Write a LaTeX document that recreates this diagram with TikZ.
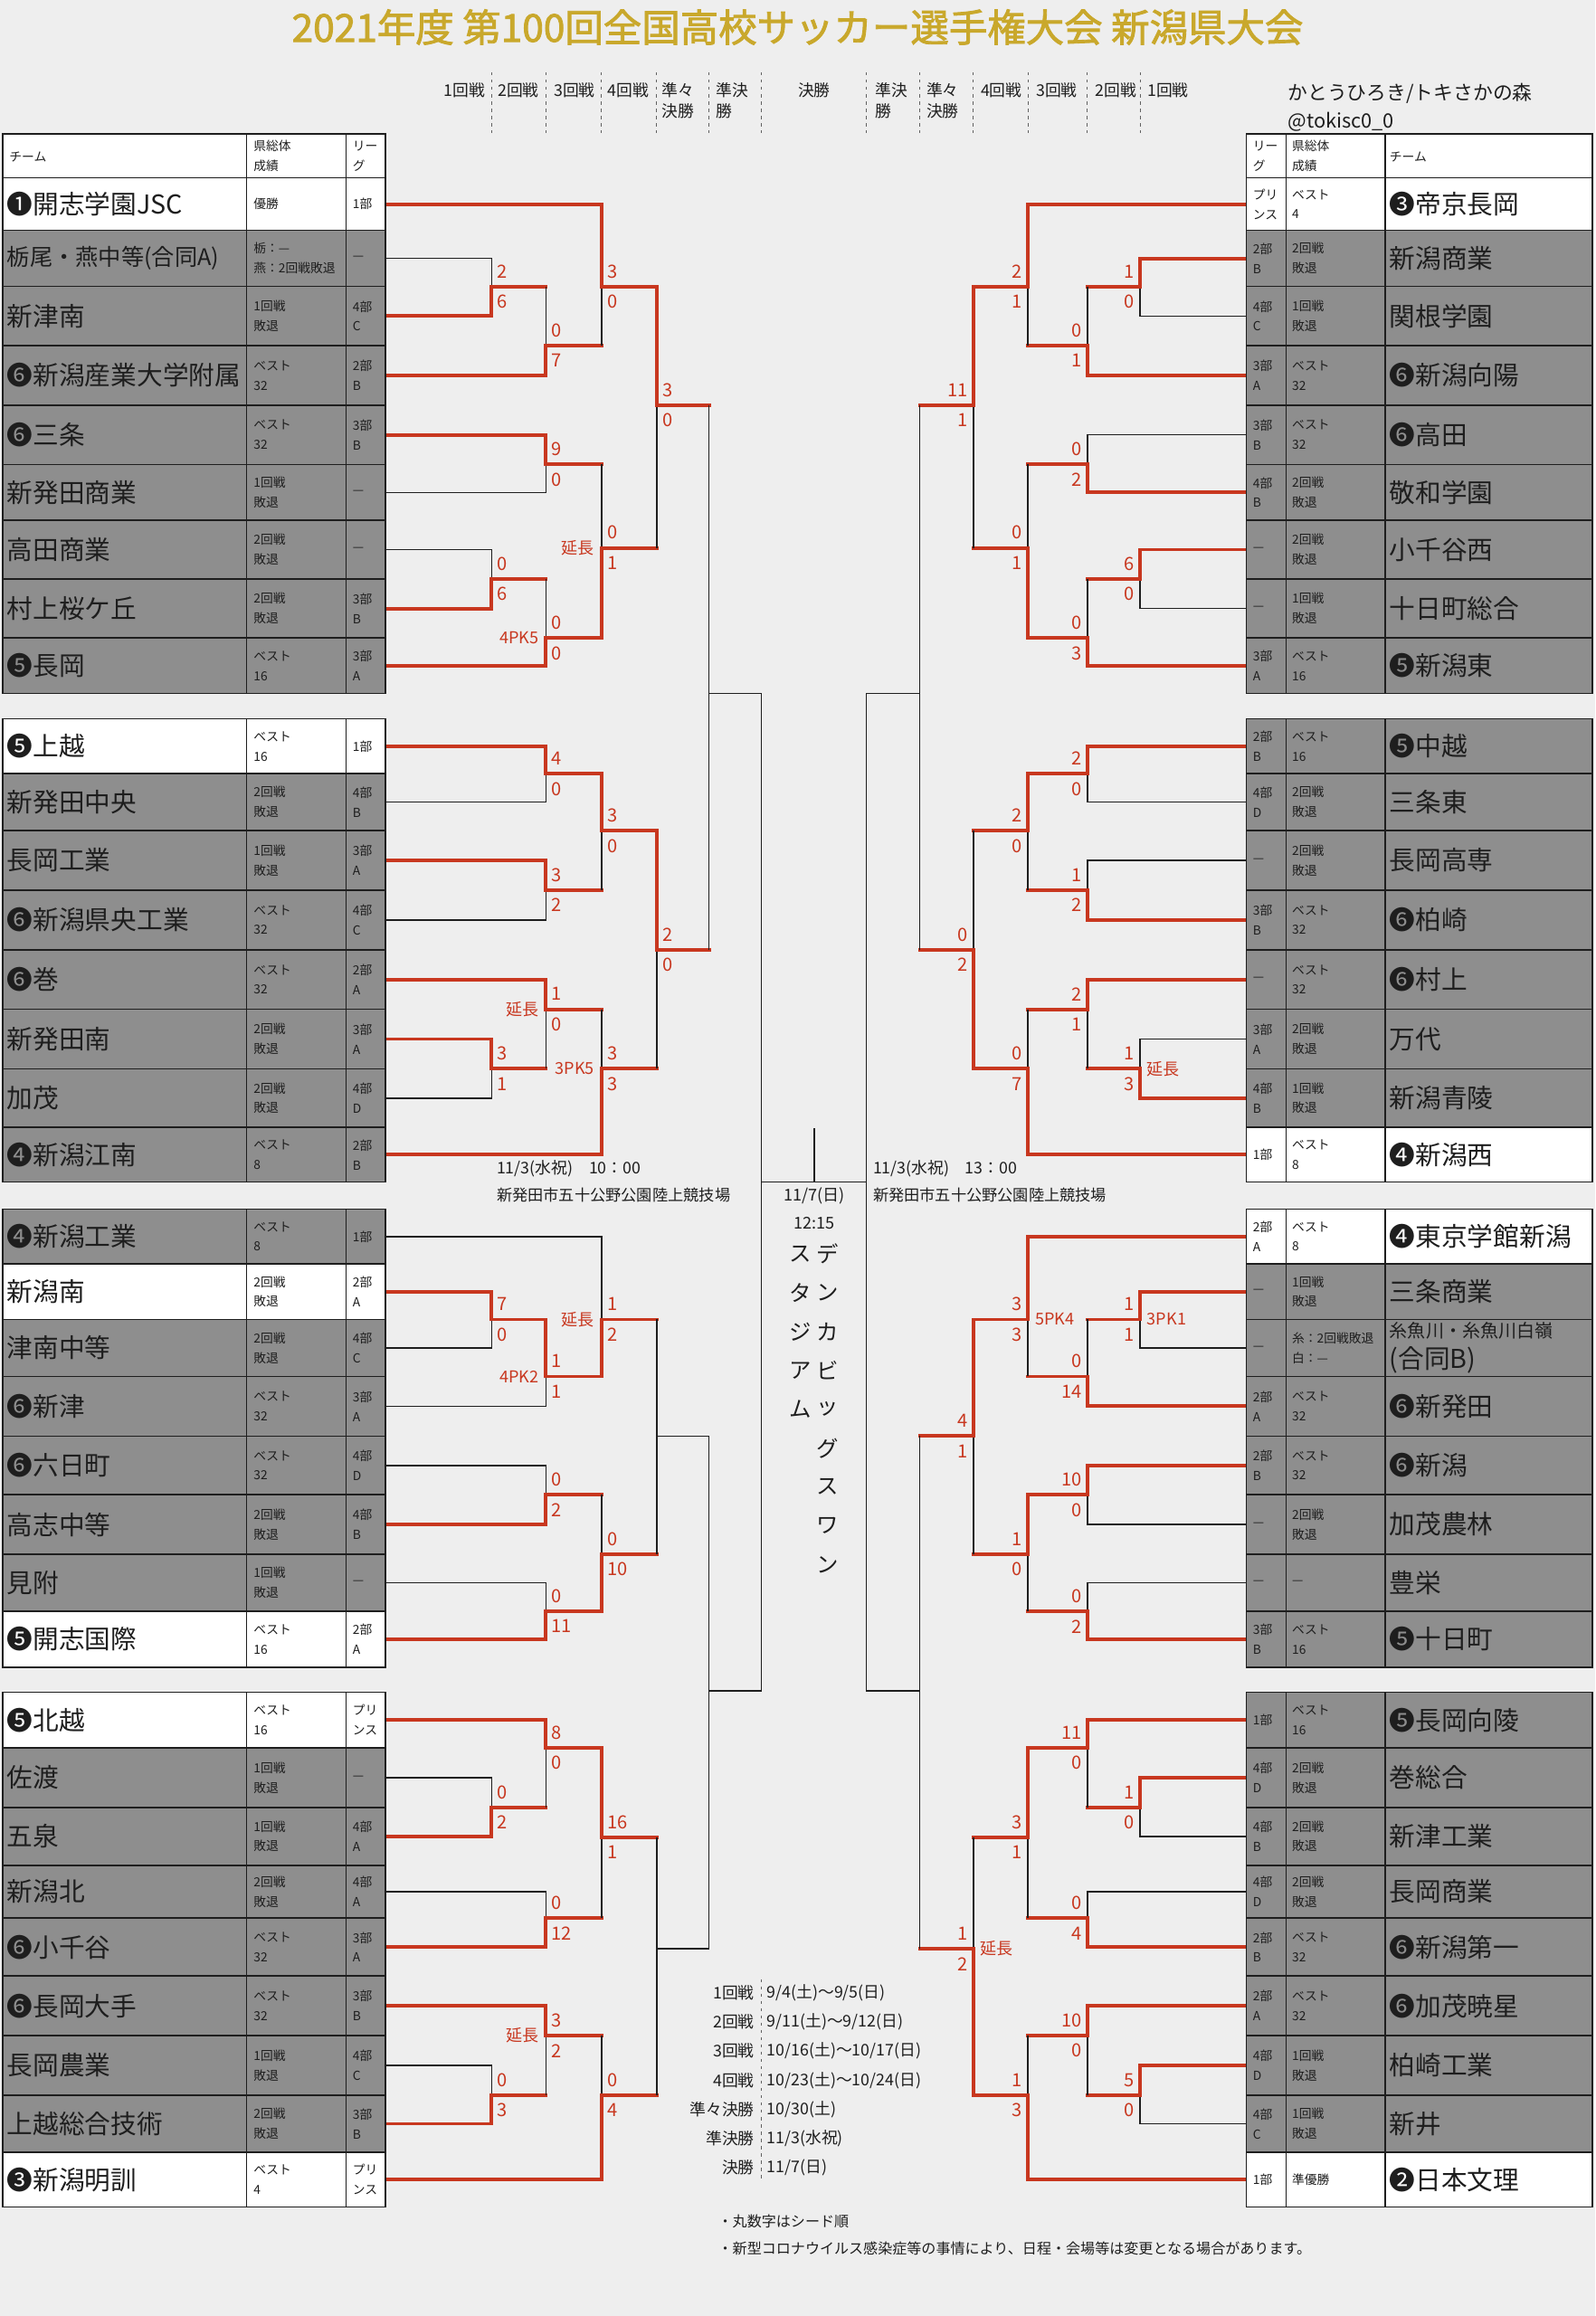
\documentclass[tikz,border=0pt]{standalone}
\usepackage{fontspec}
\setmainfont{Noto Sans CJK JP}
\newfontfamily\titlefont[FakeBold=2]{Noto Sans CJK JP}

\definecolor{bg}{HTML}{EEEEEE}
\definecolor{gry}{HTML}{8E8E8E}
\definecolor{rd}{HTML}{C8371F}
\definecolor{ink}{HTML}{1E1E1E}
\definecolor{gold}{HTML}{C9A82C}

\pgfdeclarelayer{front}
\pgfsetlayers{main,front}

% 表の一行（左）: 名前, 上端, 下端, 塗り, チーム, 県総体成績, リーグ
\newcommand{\rowL}[7]{%
  \pgfmathsetmacro{\yc}{(#2+#3)/2}
  \filldraw[cell,fill=#4] (1.7,#2) rectangle (167,#3);
  \filldraw[cell,fill=#4] (167,#2) rectangle (234.2,#3);
  \filldraw[cell,fill=#4] (234.2,#2) rectangle (261.1,#3);
  \node[tname] (#1n) at (4.5,\yc) {#5};
  \node[tsmall] (#1r) at (171.4,\yc) {#6};
  \node[tsmall] (#1g) at (238.5,\yc) {#7};
  \coordinate (#1) at (261.1,\yc);
}
% 表の一行（右）: 名前, 上端, 下端, 塗り, リーグ, 県総体成績, チーム
\newcommand{\rowR}[7]{%
  \pgfmathsetmacro{\yc}{(#2+#3)/2}
  \filldraw[cell,fill=#4] (843.8,#2) rectangle (870.7,#3);
  \filldraw[cell,fill=#4] (870.7,#2) rectangle (937.9,#3);
  \filldraw[cell,fill=#4] (937.9,#2) rectangle (1078.2,#3);
  \node[tsmall] (#1g) at (848,\yc) {#5};
  \node[tsmall] (#1r) at (874.5,\yc) {#6};
  \node[tname] (#1n) at (940.5,\yc) {#7};
  \coordinate (#1) at (843.8,\yc);
}
% 勝者の線 / 表から来て負け / 勝ち上がって負け
\newcommand{\winp}[2]{\draw[win] (#1) -| (#2);}
\newcommand{\losst}[2]{\draw[lose] (#1) -| (#2);}
\newcommand{\lossm}[2]{\draw[win] (#1) -- (#1 -| #2); \draw[lose] (#1 -| #2) -- (#2);}
% スコア（上・下）と延長・PK
\newcommand{\pts}[4]{%
  \node[sc#1,yshift=0.206cm] (#2u) at (#2) {#3};
  \node[sc#1,yshift=-0.206cm] (#2d) at (#2) {#4};}
\newcommand{\exlab}[3]{\node[ex#1] (#2x) at (#2) {#3};}

\begin{document}
\begin{tikzpicture}[x=0.02cm, y=-0.02cm,
  cell/.style={draw=ink, line width=0.55pt},
  tname/.style={anchor=west, inner sep=0, align=left, text=ink, font=\fontsize{10}{12}\selectfont},
  tsmall/.style={anchor=west, inner sep=0, align=left, text=ink, font=\fontsize{4.8}{7.6}\selectfont},
  win/.style={draw=rd, line width=1.35pt, line cap=rect},
  lose/.style={draw=ink, line width=0.5pt},
  sc/.style={inner sep=0, text=rd, font=\fontsize{7}{8}\selectfont},
  scL/.style={sc, anchor=west, xshift=0.07cm},
  scR/.style={sc, anchor=east, xshift=-0.07cm},
  ex/.style={inner sep=0, text=rd, font=\fontsize{6.3}{7}\selectfont},
  exL/.style={ex, anchor=east, xshift=-0.09cm},
  exR/.style={ex, anchor=west, xshift=0.09cm},
  dsep/.style={draw=ink!70, line width=0.3pt, dash pattern=on 1.2pt off 1.6pt},
  hd/.style={inner sep=0, align=left, text=ink, font=\fontsize{6.2}{8.1}\selectfont},
  info/.style={inner sep=0, anchor=west, text=ink, font=\fontsize{6.2}{8}\selectfont},
  vt/.style={inner sep=0, text=ink, font=\fontsize{8.5}{9}\selectfont}]

    % 背景
    \path[use as bounding box, fill=bg] (0,0) rectangle (1080,1568.2);

    % 各回戦の縦線の位置
    \pgfmathsetmacro{\xLa}{332.8}
    \pgfmathsetmacro{\xLb}{369.6}
    \pgfmathsetmacro{\xLc}{407.3}
    \pgfmathsetmacro{\xLd}{444.6}
    \pgfmathsetmacro{\xLq}{480}
    \pgfmathsetmacro{\xLs}{515.6}
    \pgfmathsetmacro{\xRa}{771.8}
    \pgfmathsetmacro{\xRb}{736.2}
    \pgfmathsetmacro{\xRc}{696}
    \pgfmathsetmacro{\xRd}{659}
    \pgfmathsetmacro{\xRq}{622.8}
    \pgfmathsetmacro{\xRs}{586.7}

    % タイトルと作者
    \node[text=gold, inner sep=0, font=\titlefont\fontsize{14.8}{16}\selectfont] (title) at (540,18.4)
        {2021年度 第100回全国高校サッカー選手権大会 新潟県大会};
    \node[info, font=\fontsize{7.6}{9}\selectfont] (credit) at (871.7,63.3) {かとうひろき/トキさかの森};
    \node[info, font=\fontsize{7.6}{9}\selectfont] (handle) at (871.7,82.7) {@tokisc0\_0};

    % 回戦の見出し
    \foreach \x in {\xLa,\xLb,\xLc,\xLd,\xLq,\xLs,\xRs,\xRq,\xRd,\xRc,\xRb,\xRa}
        \draw[dsep] (\x,49) -- (\x,90);
    \node[hd] (lbl1) at (314.6,60.9) {1回戦};
    \node[hd] (lbl2) at (351,60.9) {2回戦};
    \node[hd] (lbl3) at (389,60.9) {3回戦};
    \node[hd] (lbl4) at (425.5,60.9) {4回戦};
    \node[hd, anchor=west] (lbl5) at (448,68) {準々\\決勝};
    \node[hd, anchor=west] (lbl6) at (484.5,68) {準決\\勝};
    \node[hd] (lbl7) at (551.2,60.9) {決勝};
    \node[hd, anchor=west] (lbl8) at (592.6,68) {準決\\勝};
    \node[hd, anchor=west] (lbl9) at (627,68) {準々\\決勝};
    \node[hd] (lbl10) at (678,60.9) {4回戦};
    \node[hd] (lbl11) at (715.5,60.9) {3回戦};
    \node[hd] (lbl12) at (755.6,60.9) {2回戦};
    \node[hd] (lbl13) at (790.8,60.9) {1回戦};

    \begin{pgfonlayer}{front}
    % 左の表
    \filldraw[cell,fill=white] (1.7,90.8) rectangle (167,120.5);
    \filldraw[cell,fill=white] (167,90.8) rectangle (234.2,120.5);
    \filldraw[cell,fill=white] (234.2,90.8) rectangle (261.1,120.5);
    \node[tsmall] (hdL1) at (6,106) {チーム};
    \node[tsmall] (hdL2) at (171.4,105.7) {県総体\\成績};
    \node[tsmall] (hdL3) at (238.5,105.7) {リー\\グ};

    \rowL{A0}{120.5}{156}{white}{❶開志学園JSC}{優勝}{1部}
    \rowL{A1}{156}{194}{gry}{\fontsize{8.8}{10}\selectfont 栃尾・燕中等(合同A)}{栃：—\\燕：2回戦敗退}{—}
    \rowL{A2}{194}{234}{gry}{新津南}{1回戦\\敗退}{4部\\C}
    \rowL{A3}{234}{274.3}{gry}{❻新潟産業大学附属}{ベスト\\32}{2部\\B}
    \rowL{A4}{274.3}{314.5}{gry}{❻三条}{ベスト\\32}{3部\\B}
    \rowL{A5}{314.5}{352.3}{gry}{新発田商業}{1回戦\\敗退}{—}
    \rowL{A6}{352.3}{392}{gry}{高田商業}{2回戦\\敗退}{—}
    \rowL{A7}{392}{432}{gry}{村上桜ケ丘}{2回戦\\敗退}{3部\\B}
    \rowL{A8}{432}{469.6}{gry}{❺長岡}{ベスト\\16}{3部\\A}

    \rowL{B0}{486.8}{523.8}{white}{❺上越}{ベスト\\16}{1部}
    \rowL{B1}{523.8}{562.4}{gry}{新発田中央}{2回戦\\敗退}{4部\\B}
    \rowL{B2}{562.4}{602.7}{gry}{長岡工業}{1回戦\\敗退}{3部\\A}
    \rowL{B3}{602.7}{643.1}{gry}{❻新潟県央工業}{ベスト\\32}{4部\\C}
    \rowL{B4}{643.1}{683.4}{gry}{❻巻}{ベスト\\32}{2部\\A}
    \rowL{B5}{683.4}{723.7}{gry}{新発田南}{2回戦\\敗退}{3部\\A}
    \rowL{B6}{723.7}{763.4}{gry}{加茂}{2回戦\\敗退}{4部\\D}
    \rowL{B7}{763.4}{800.4}{gry}{❹新潟江南}{ベスト\\8}{2部\\B}

    \rowL{C0}{818.8}{855.8}{gry}{❹新潟工業}{ベスト\\8}{1部}
    \rowL{C1}{855.8}{893.4}{white}{新潟南}{2回戦\\敗退}{2部\\A}
    \rowL{C2}{893.4}{932}{gry}{津南中等}{2回戦\\敗退}{4部\\C}
    \rowL{C3}{932}{972.4}{gry}{❻新津}{ベスト\\32}{3部\\A}
    \rowL{C4}{972.4}{1012.1}{gry}{❻六日町}{ベスト\\32}{4部\\D}
    \rowL{C5}{1012.1}{1052.4}{gry}{高志中等}{2回戦\\敗退}{4部\\B}
    \rowL{C6}{1052.4}{1091}{gry}{見附}{1回戦\\敗退}{—}
    \rowL{C7}{1091}{1129}{white}{❺開志国際}{ベスト\\16}{2部\\A}

    \rowL{D0}{1145.8}{1183.5}{white}{❺北越}{ベスト\\16}{プリ\\ンス}
    \rowL{D1}{1183.5}{1223.8}{gry}{佐渡}{1回戦\\敗退}{—}
    \rowL{D2}{1223.8}{1263.1}{gry}{五泉}{1回戦\\敗退}{4部\\A}
    \rowL{D3}{1263.1}{1298.7}{gry}{新潟北}{2回戦\\敗退}{4部\\A}
    \rowL{D4}{1298.7}{1338}{gry}{❻小千谷}{ベスト\\32}{3部\\A}
    \rowL{D5}{1338}{1378.3}{gry}{❻長岡大手}{ベスト\\32}{3部\\B}
    \rowL{D6}{1378.3}{1418.7}{gry}{長岡農業}{1回戦\\敗退}{4部\\C}
    \rowL{D7}{1418.7}{1457.3}{gry}{上越総合技術}{2回戦\\敗退}{3部\\B}
    \rowL{D8}{1457.3}{1494.3}{white}{❸新潟明訓}{ベスト\\4}{プリ\\ンス}

    % 右の表
    \filldraw[cell,fill=white] (843.8,90.8) rectangle (870.7,120.5);
    \filldraw[cell,fill=white] (870.7,90.8) rectangle (937.9,120.5);
    \filldraw[cell,fill=white] (937.9,90.8) rectangle (1078.2,120.5);
    \node[tsmall] (hdR1) at (848,105.7) {リー\\グ};
    \node[tsmall] (hdR2) at (874.5,105.7) {県総体\\成績};
    \node[tsmall] (hdR3) at (940.5,106) {チーム};

    \rowR{E0}{120.5}{156}{white}{プリ\\ンス}{ベスト\\4}{❸帝京長岡}
    \rowR{E1}{156}{194}{gry}{2部\\B}{2回戦\\敗退}{新潟商業}
    \rowR{E2}{194}{234}{gry}{4部\\C}{1回戦\\敗退}{関根学園}
    \rowR{E3}{234}{274.3}{gry}{3部\\A}{ベスト\\32}{❻新潟向陽}
    \rowR{E4}{274.3}{314.5}{gry}{3部\\B}{ベスト\\32}{❻高田}
    \rowR{E5}{314.5}{352.3}{gry}{4部\\B}{2回戦\\敗退}{敬和学園}
    \rowR{E6}{352.3}{392}{gry}{—}{2回戦\\敗退}{小千谷西}
    \rowR{E7}{392}{432}{gry}{—}{1回戦\\敗退}{十日町総合}
    \rowR{E8}{432}{469.6}{gry}{3部\\A}{ベスト\\16}{❺新潟東}

    \rowR{F0}{486.8}{523.8}{gry}{2部\\B}{ベスト\\16}{❺中越}
    \rowR{F1}{523.8}{562.4}{gry}{4部\\D}{2回戦\\敗退}{三条東}
    \rowR{F2}{562.4}{602.7}{gry}{—}{2回戦\\敗退}{長岡高専}
    \rowR{F3}{602.7}{643.1}{gry}{3部\\B}{ベスト\\32}{❻柏崎}
    \rowR{F4}{643.1}{683.4}{gry}{—}{ベスト\\32}{❻村上}
    \rowR{F5}{683.4}{723.7}{gry}{3部\\A}{2回戦\\敗退}{万代}
    \rowR{F6}{723.7}{763.4}{gry}{4部\\B}{1回戦\\敗退}{新潟青陵}
    \rowR{F7}{763.4}{800.4}{white}{1部}{ベスト\\8}{❹新潟西}

    \rowR{G0}{818.8}{855.8}{white}{2部\\A}{ベスト\\8}{❹東京学館新潟}
    \rowR{G1}{855.8}{893.4}{gry}{—}{1回戦\\敗退}{三条商業}
    \rowR{G2}{893.4}{932}{gry}{—}{糸：2回戦敗退\\白：—}{\fontsize{7}{10}\selectfont 糸魚川・糸魚川白嶺\\(合同B)}
    \rowR{G3}{932}{972.4}{gry}{2部\\A}{ベスト\\32}{❻新発田}
    \rowR{G4}{972.4}{1012.1}{gry}{2部\\B}{ベスト\\32}{❻新潟}
    \rowR{G5}{1012.1}{1052.4}{gry}{—}{2回戦\\敗退}{加茂農林}
    \rowR{G6}{1052.4}{1091}{gry}{—}{—}{豊栄}
    \rowR{G7}{1091}{1129}{gry}{3部\\B}{ベスト\\16}{❺十日町}

    \rowR{H0}{1145.8}{1183.5}{gry}{1部}{ベスト\\16}{❺長岡向陵}
    \rowR{H1}{1183.5}{1223.8}{gry}{4部\\D}{2回戦\\敗退}{巻総合}
    \rowR{H2}{1223.8}{1263.1}{gry}{4部\\B}{2回戦\\敗退}{新津工業}
    \rowR{H3}{1263.1}{1298.7}{gry}{4部\\D}{2回戦\\敗退}{長岡商業}
    \rowR{H4}{1298.7}{1338}{gry}{2部\\B}{ベスト\\32}{❻新潟第一}
    \rowR{H5}{1338}{1378.3}{gry}{2部\\A}{ベスト\\32}{❻加茂暁星}
    \rowR{H6}{1378.3}{1418.7}{gry}{4部\\D}{1回戦\\敗退}{柏崎工業}
    \rowR{H7}{1418.7}{1457.3}{gry}{4部\\C}{1回戦\\敗退}{新井}
    \rowR{H8}{1457.3}{1494.3}{white}{1部}{準優勝}{❷日本文理}
    \end{pgfonlayer}

    % 左ブロック1
    \coordinate (a1) at (\xLa,194);    \losst{A1}{a1} \winp{A2}{a1} \pts{L}{a1}{2}{6}
    \coordinate (a2) at (\xLb,234);    \lossm{a1}{a2} \winp{A3}{a2} \pts{L}{a2}{0}{7}
    \coordinate (a3) at (\xLc,194);    \lossm{a2}{a3} \winp{A0}{a3} \pts{L}{a3}{3}{0}
    \coordinate (a4) at (\xLb,314.5);  \losst{A5}{a4} \winp{A4}{a4} \pts{L}{a4}{9}{0}
    \coordinate (a5) at (\xLa,392);    \losst{A6}{a5} \winp{A7}{a5} \pts{L}{a5}{0}{6}
    \coordinate (a6) at (\xLb,432);    \lossm{a5}{a6} \winp{A8}{a6} \pts{L}{a6}{0}{0} \exlab{L}{a6}{4PK5}
    \coordinate (a7) at (\xLc,371);    \lossm{a4}{a7} \winp{a6}{a7} \pts{L}{a7}{0}{1} \exlab{L}{a7}{延長}
    \coordinate (a8) at (\xLd,274.3);  \lossm{a7}{a8} \winp{a3}{a8} \pts{L}{a8}{3}{0}

    % 左ブロック2
    \coordinate (b1) at (\xLb,523.8);  \losst{B1}{b1} \winp{B0}{b1} \pts{L}{b1}{4}{0}
    \coordinate (b2) at (\xLb,602.7);  \losst{B3}{b2} \winp{B2}{b2} \pts{L}{b2}{3}{2}
    \coordinate (b3) at (\xLc,562.4);  \lossm{b2}{b3} \winp{b1}{b3} \pts{L}{b3}{3}{0}
    \coordinate (b4) at (\xLa,723.7);  \losst{B6}{b4} \winp{B5}{b4} \pts{L}{b4}{3}{1}
    \coordinate (b5) at (\xLb,683.4);  \lossm{b4}{b5} \winp{B4}{b5} \pts{L}{b5}{1}{0} \exlab{L}{b5}{延長}
    \coordinate (b6) at (\xLc,723.7);  \lossm{b5}{b6} \winp{B7}{b6} \pts{L}{b6}{3}{3} \exlab{L}{b6}{3PK5}
    \coordinate (b7) at (\xLd,643.1);  \lossm{b6}{b7} \winp{b3}{b7} \pts{L}{b7}{2}{0}

    % 左ブロック3
    \coordinate (c1) at (\xLa,893.4);  \losst{C2}{c1} \winp{C1}{c1} \pts{L}{c1}{7}{0}
    \coordinate (c2) at (\xLb,932);    \losst{C3}{c2} \winp{c1}{c2} \pts{L}{c2}{1}{1} \exlab{L}{c2}{4PK2}
    \coordinate (c3) at (\xLc,893.4);  \losst{C0}{c3} \winp{c2}{c3} \pts{L}{c3}{1}{2} \exlab{L}{c3}{延長}
    \coordinate (c4) at (\xLb,1012.1); \losst{C4}{c4} \winp{C5}{c4} \pts{L}{c4}{0}{2}
    \coordinate (c5) at (\xLb,1091);   \losst{C6}{c5} \winp{C7}{c5} \pts{L}{c5}{0}{11}
    \coordinate (c6) at (\xLc,1052.4); \lossm{c4}{c6} \winp{c5}{c6} \pts{L}{c6}{0}{10}
    \coordinate (c7) at (\xLd,972.4);  \lossm{c3}{c7} \lossm{c6}{c7}

    % 左ブロック4
    \coordinate (d1) at (\xLa,1223.8); \losst{D1}{d1} \winp{D2}{d1} \pts{L}{d1}{0}{2}
    \coordinate (d2) at (\xLb,1183.5); \lossm{d1}{d2} \winp{D0}{d2} \pts{L}{d2}{8}{0}
    \coordinate (d3) at (\xLb,1298.7); \losst{D3}{d3} \winp{D4}{d3} \pts{L}{d3}{0}{12}
    \coordinate (d4) at (\xLc,1244);   \lossm{d3}{d4} \winp{d2}{d4} \pts{L}{d4}{16}{1}
    \coordinate (d5) at (\xLa,1418.7); \losst{D6}{d5} \winp{D7}{d5} \pts{L}{d5}{0}{3}
    \coordinate (d6) at (\xLb,1378.3); \lossm{d5}{d6} \winp{D5}{d6} \pts{L}{d6}{3}{2} \exlab{L}{d6}{延長}
    \coordinate (d7) at (\xLc,1418.7); \lossm{d6}{d7} \winp{D8}{d7} \pts{L}{d7}{0}{4}
    \coordinate (d8) at (\xLd,1319.5); \lossm{d4}{d8} \lossm{d7}{d8}

    % 右ブロック1
    \coordinate (e1) at (\xRa,194);    \losst{E2}{e1} \winp{E1}{e1} \pts{R}{e1}{1}{0}
    \coordinate (e2) at (\xRb,234);    \lossm{e1}{e2} \winp{E3}{e2} \pts{R}{e2}{0}{1}
    \coordinate (e3) at (\xRc,194);    \lossm{e2}{e3} \winp{E0}{e3} \pts{R}{e3}{2}{1}
    \coordinate (e4) at (\xRb,314.5);  \losst{E4}{e4} \winp{E5}{e4} \pts{R}{e4}{0}{2}
    \coordinate (e5) at (\xRa,392);    \losst{E7}{e5} \winp{E6}{e5} \pts{R}{e5}{6}{0}
    \coordinate (e6) at (\xRb,432);    \lossm{e5}{e6} \winp{E8}{e6} \pts{R}{e6}{0}{3}
    \coordinate (e7) at (\xRc,371);    \lossm{e4}{e7} \winp{e6}{e7} \pts{R}{e7}{0}{1}
    \coordinate (e8) at (\xRd,274.3);  \lossm{e7}{e8} \winp{e3}{e8} \pts{R}{e8}{11}{1}

    % 右ブロック2
    \coordinate (f1) at (\xRb,523.8);  \losst{F1}{f1} \winp{F0}{f1} \pts{R}{f1}{2}{0}
    \coordinate (f2) at (\xRb,602.7);  \losst{F2}{f2} \winp{F3}{f2} \pts{R}{f2}{1}{2}
    \coordinate (f3) at (\xRc,562.4);  \lossm{f2}{f3} \winp{f1}{f3} \pts{R}{f3}{2}{0}
    \coordinate (f4) at (\xRa,723.7);  \losst{F5}{f4} \winp{F6}{f4} \pts{R}{f4}{1}{3} \exlab{R}{f4}{延長}
    \coordinate (f5) at (\xRb,683.4);  \lossm{f4}{f5} \winp{F4}{f5} \pts{R}{f5}{2}{1}
    \coordinate (f6) at (\xRc,723.7);  \lossm{f5}{f6} \winp{F7}{f6} \pts{R}{f6}{0}{7}
    \coordinate (f7) at (\xRd,643.1);  \lossm{f3}{f7} \winp{f6}{f7} \pts{R}{f7}{0}{2}

    % 右ブロック3
    \coordinate (g1) at (\xRa,893.4);  \losst{G2}{g1} \winp{G1}{g1} \pts{R}{g1}{1}{1} \exlab{R}{g1}{3PK1}
    \coordinate (g2) at (\xRb,932);    \lossm{g1}{g2} \winp{G3}{g2} \pts{R}{g2}{0}{14}
    \coordinate (g3) at (\xRc,893.4);  \lossm{g2}{g3} \winp{G0}{g3} \pts{R}{g3}{3}{3} \exlab{R}{g3}{5PK4}
    \coordinate (g4) at (\xRb,1012.1); \losst{G5}{g4} \winp{G4}{g4} \pts{R}{g4}{10}{0}
    \coordinate (g5) at (\xRb,1091);   \losst{G6}{g5} \winp{G7}{g5} \pts{R}{g5}{0}{2}
    \coordinate (g6) at (\xRc,1052.4); \lossm{g5}{g6} \winp{g4}{g6} \pts{R}{g6}{1}{0}
    \coordinate (g7) at (\xRd,972.4);  \lossm{g6}{g7} \winp{g3}{g7} \pts{R}{g7}{4}{1}

    % 右ブロック4
    \coordinate (h1) at (\xRa,1223.8); \losst{H2}{h1} \winp{H1}{h1} \pts{R}{h1}{1}{0}
    \coordinate (h2) at (\xRb,1183.5); \lossm{h1}{h2} \winp{H0}{h2} \pts{R}{h2}{11}{0}
    \coordinate (h3) at (\xRb,1298.7); \losst{H3}{h3} \winp{H4}{h3} \pts{R}{h3}{0}{4}
    \coordinate (h4) at (\xRc,1244);   \lossm{h3}{h4} \winp{h2}{h4} \pts{R}{h4}{3}{1}
    \coordinate (h5) at (\xRa,1418.7); \losst{H7}{h5} \winp{H6}{h5} \pts{R}{h5}{5}{0}
    \coordinate (h6) at (\xRb,1378.3); \lossm{h5}{h6} \winp{H5}{h6} \pts{R}{h6}{10}{0}
    \coordinate (h7) at (\xRc,1418.7); \lossm{h6}{h7} \winp{H8}{h7} \pts{R}{h7}{1}{3}
    \coordinate (h8) at (\xRd,1319.5); \lossm{h4}{h8} \winp{h7}{h8} \pts{R}{h8}{1}{2} \exlab{R}{h8}{延長}

    % 準々決勝・準決勝・決勝（未定）
    \coordinate (q1) at (\xLq,469.6);  \lossm{a8}{q1} \lossm{b7}{q1}
    \coordinate (q2) at (\xLq,1144.8); \losst{c7}{q2} \losst{d8}{q2}
    \coordinate (q3) at (\xRq,469.6);  \lossm{e8}{q3} \lossm{f7}{q3}
    \coordinate (q4) at (\xRq,1144.8); \lossm{g7}{q4} \lossm{h8}{q4}
    \coordinate (s1) at (\xLs,800.4);  \losst{q1}{s1} \losst{q2}{s1}
    \coordinate (s2) at (\xRs,800.4);  \losst{q3}{s2} \losst{q4}{s2}
    \coordinate (fin) at (551.2,800.4);
    \coordinate (champ) at (551.2,764);
    \losst{s1}{fin} \losst{s2}{fin}
    \draw[lose] (fin) -- (champ);

    % 準決勝の日程と会場
    \node[info] (sfL1) at (336,791.5) {11/3(水祝)　10：00};
    \node[info, font=\fontsize{6}{7}\selectfont] (sfL2) at (336,809.4) {新発田市五十公野公園陸上競技場};
    \node[info] (sfR1) at (590.8,791.5) {11/3(水祝)　13：00};
    \node[info, font=\fontsize{6}{7}\selectfont] (sfR2) at (590.8,809.4) {新発田市五十公野公園陸上競技場};

    % 決勝の日程と会場（縦書き）
    \node[hd, font=\fontsize{6.3}{7}\selectfont] (fdate) at (551.2,810) {11/7(日)};
    \node[hd, font=\fontsize{6.3}{7}\selectfont] (ftime) at (551.2,828) {12:15};
    \foreach \ch [count=\i from 0] in {デ,ン,カ,ビ,ッ,グ,ス,ワ,ン}
        \node[vt] (vr\i) at (560.5,{849+26.3*\i}) {\ch};
    \foreach \ch [count=\i from 0] in {ス,タ,ジ,ア,ム}
        \node[vt] (vl\i) at (542,{849+26.3*\i}) {\ch};

    % 日程表
    \draw[dsep] (515.4,1340) -- (515.4,1476);
    \node[info, anchor=east] (r1) at (511,1349.4) {1回戦};
    \node[info, anchor=east] (r2) at (511,1369.1) {2回戦};
    \node[info, anchor=east] (r3) at (511,1388.8) {3回戦};
    \node[info, anchor=east] (r4) at (511,1408.5) {4回戦};
    \node[info, anchor=east] (r5) at (511,1428.2) {準々決勝};
    \node[info, anchor=east] (r6) at (511,1447.9) {準決勝};
    \node[info, anchor=east] (r7) at (511,1467.6) {決勝};
    \node[info] (t1) at (519,1349.4) {9/4(土)〜9/5(日)};
    \node[info] (t2) at (519,1369.1) {9/11(土)〜9/12(日)};
    \node[info] (t3) at (519,1388.8) {10/16(土)〜10/17(日)};
    \node[info] (t4) at (519,1408.5) {10/23(土)〜10/24(日)};
    \node[info] (t5) at (519,1428.2) {10/30(土)};
    \node[info] (t6) at (519,1447.9) {11/3(水祝)};
    \node[info] (t7) at (519,1467.6) {11/7(日)};

    % 注記
    \node[info, font=\fontsize{5.6}{7}\selectfont] (note1) at (485.8,1504) {・丸数字はシード順};
    \node[info, font=\fontsize{5.6}{7}\selectfont] (note2) at (485.8,1522.3)
        {・新型コロナウイルス感染症等の事情により、日程・会場等は変更となる場合があります。};

\end{tikzpicture}
\end{document}
